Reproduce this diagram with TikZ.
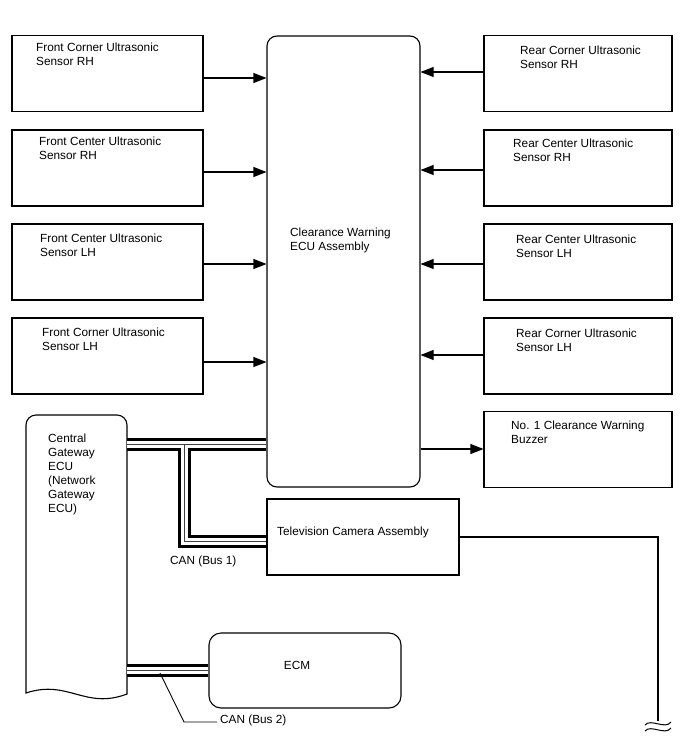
\documentclass[tikz,border=0pt]{standalone}
\usepackage{fontspec}
\setmainfont{Liberation Sans}
\usetikzlibrary{arrows.meta}
\begin{document}
\begin{tikzpicture}[x=1pt,y=-1pt,
  font=\fontsize{11.8}{14}\selectfont,
  lbox/.style={draw,line width=1.1pt,minimum width=191pt,minimum height=76pt,inner sep=0pt},
  rbox/.style={draw,line width=1.1pt,minimum width=188pt,minimum height=76pt,inner sep=0pt},
  txt/.style={anchor=north west,align=left,inner sep=0pt},
  arr/.style={line width=1.1pt,-{Triangle[length=13pt,width=10pt]}},
  busout/.style={line width=13pt,black,line cap=butt,line join=miter},
  busmid/.style={line width=7pt,white,line cap=butt,line join=miter},
  buscore/.style={line width=0.9pt,black!75,line cap=butt,line join=miter},
  leader/.style={line width=0.9pt}]
\useasboundingbox (0,0) rectangle (688,755);

% left sensors
\node[lbox] (L1) at (107.5,73.5) {};
\node[lbox] (L2) at (107.5,168) {};
\node[lbox] (L3) at (107.5,262) {};
\node[lbox] (L4) at (107.5,356) {};
\node[txt] (tL1) at (36,43) {Front Corner Ultrasonic\\Sensor RH};
\node[txt] (tL2) at (39,137) {Front Center Ultrasonic\\Sensor RH};
\node[txt] (tL3) at (40,234) {Front Center Ultrasonic\\Sensor LH};
\node[txt] (tL4) at (42,328) {Front Corner Ultrasonic\\Sensor LH};

% right sensors
\node[rbox] (R1) at (578,73.5) {};
\node[rbox] (R2) at (578,168) {};
\node[rbox] (R3) at (578,262) {};
\node[rbox] (R4) at (578,356) {};
\node[rbox] (BZ) at (578,449.5) {};
\node[txt] (tR1) at (520,46) {Rear Corner Ultrasonic\\Sensor RH};
\node[txt] (tR2) at (513,139) {Rear Center Ultrasonic\\Sensor RH};
\node[txt] (tR3) at (516,235) {Rear Center Ultrasonic\\Sensor LH};
\node[txt] (tR4) at (516,329) {Rear Corner Ultrasonic\\Sensor LH};
\node[txt] (tBZ) at (511,421) {No. 1 Clearance Warning\\Buzzer};

% ECU
\node[draw,line width=1.1pt,rounded corners=10pt,minimum width=153pt,minimum height=451pt,inner sep=0pt] (ECU) at (343.5,261.5) {};
\node[txt] (tECU) at (290,228) {Clearance Warning\\ECU Assembly};

% TV camera
\node[draw,line width=1.1pt,minimum width=192pt,minimum height=76pt,inner sep=0pt] (TV) at (363,537) {};
\node[txt] (tTV) at (277,527) {Television Camera Assembly};

% ECM
\node[draw,line width=1.1pt,rounded corners=12pt,minimum width=192pt,minimum height=75pt,inner sep=0pt] (ECM) at (305,670.5) {};
\node (tECM) at (297,665) {ECM};

% Gateway
\draw[line width=1.1pt] (127,694) .. controls (85,710) and (68,679) .. (26,693)
  -- (26,425) arc[start angle=180,end angle=270,radius=10]
  -- (117,415) arc[start angle=270,end angle=360,radius=10] -- cycle;
\coordinate (GW1) at (127,444);
\coordinate (GW2) at (127,670.5);
\node[txt] (tGW) at (48,434) {Central\\Gateway\\ECU\\(Network\\Gateway\\ECU)};

% arrows
\draw[arr] ([yshift=-4.5pt]L1.east) -- ([yshift=-4.5pt]L1.east -| ECU.west);
\draw[arr] ([yshift=-4pt]L2.east) -- ([yshift=-4pt]L2.east -| ECU.west);
\draw[arr] ([yshift=-2pt]L3.east) -- ([yshift=-2pt]L3.east -| ECU.west);
\draw[arr] ([yshift=-6pt]L4.east) -- ([yshift=-6pt]L4.east -| ECU.west);
\draw[arr] ([yshift=1.5pt]R1.west) -- ([yshift=1.5pt]R1.west -| ECU.east);
\draw[arr] ([yshift=-2pt]R2.west) -- ([yshift=-2pt]R2.west -| ECU.east);
\draw[arr] ([yshift=-2pt]R3.west) -- ([yshift=-2pt]R3.west -| ECU.east);
\draw[arr] ([yshift=1pt]R4.west) -- ([yshift=1pt]R4.west -| ECU.east);
\draw[arr] ([yshift=0.5pt]BZ.west -| ECU.east) -- ([yshift=0.5pt]BZ.west);

% CAN bus 1
\coordinate (J1) at (184.5,444);
\coordinate (J2) at (184.5,541);
\foreach \s in {busout,busmid,buscore}{
  \draw[\s] (GW1) -- (GW1 -| ECU.west);
  \draw[\s] (J1) -- (J2) -- (J2 -| TV.west);
  \draw[\s] (GW2) -- (GW2 -| ECM.west);
}
\node[txt] (tCAN1) at (170,556) {CAN (Bus 1)};

% CAN bus 2 label
\coordinate (K1) at (160,673);
\coordinate (K2) at (184,722);
\node[txt] (tCAN2) at (220,715) {CAN (Bus 2)};
\draw[leader] (K1) -- (K2) -- ([xshift=-3pt]tCAN2.west |- K2);

% wire to right
\coordinate (W1) at (658,537);
\coordinate (W2) at (658,721);
\draw[line width=1.1pt] (TV.east |- W1) -- (W1) -- (W2);
\draw[line width=1pt] (645,725) .. controls (651,718) and (665,730) .. (671,722);
\draw[line width=1pt] (645,731) .. controls (651,724) and (665,736) .. (671,728);
\end{tikzpicture}
\end{document}
